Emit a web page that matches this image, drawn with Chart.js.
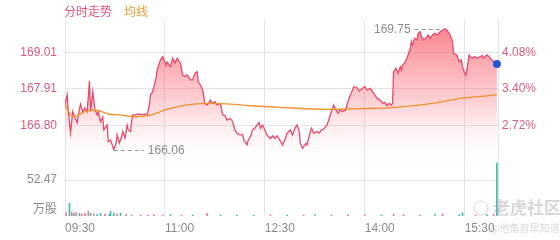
<!DOCTYPE html>
<html>
<head>
<meta charset="utf-8">
<script src="https://cdn.jsdelivr.net/npm/chart.js@4.4.1/dist/chart.umd.min.js"></script>
<style>
  body { margin: 0; background: #fff; }
  #wrap { position: relative; width: 560px; height: 240px; }
</style>
</head>
<body>
<div id="wrap"><canvas id="chart" width="560" height="240"></canvas></div>
<script>
// minutes since 09:30 and last price
const minutes = [0, 2, 3, 5, 7, 9, 11, 12, 14, 16, 18, 20, 22, 23, 25, 27, 29, 30, 32, 34, 35, 38, 39, 41, 43, 44,
  46, 47, 49, 51, 52, 54, 56, 57, 59, 60, 61, 63, 66, 69, 72, 74, 76, 77, 79, 82, 83, 85, 86, 88, 91, 92, 95, 97,
  99, 101, 104, 106, 108, 110, 113, 115, 117, 119, 120, 122, 124, 126, 128, 131, 133, 135, 137, 140, 142, 144,
  146, 149, 151, 153, 155, 158, 160, 161, 164, 165, 167, 169, 171, 173, 175, 176, 178, 180, 182, 185, 187, 189,
  191, 194, 196, 198, 200, 203, 205, 207, 209, 211, 212, 214, 217, 218, 221, 222, 224, 227, 229, 231, 233, 236,
  238, 240, 242, 244, 246, 248, 250, 253, 254, 257, 259, 260, 263, 265, 268, 270, 272, 275, 277, 279, 281, 284,
  286, 288, 290, 292, 294, 295, 296, 298, 300, 302, 303, 304, 306, 308, 309, 311, 312, 313, 315, 317, 318, 320,
  321, 323, 325, 327, 329, 331, 333, 335, 338, 340, 342, 344, 346, 347, 349, 350, 353, 355, 357, 358, 360, 361,
  362, 364, 365, 367, 369, 371, 374, 376, 377, 380, 382, 383, 386, 389];
const prices = [167.44, 167.73, 167.22, 166.57, 167.22, 167.02, 166.87, 167.12, 167.45, 167.22, 167.33, 167.22,
  168.15, 167.22, 167.83, 167.27, 167.12, 167.22, 166.91, 167.06, 166.66, 166.81, 166.30, 166.35, 166.15, 166.06,
  166.26, 166.51, 166.26, 166.45, 166.61, 166.41, 166.81, 166.66, 166.61, 166.91, 167.12, 167.12, 167.15, 167.12,
  167.15, 167.12, 167.42, 167.73, 167.83, 168.24, 168.49, 168.70, 168.80, 168.90, 168.64, 168.74, 168.59, 168.85,
  168.70, 168.85, 168.70, 168.34, 168.29, 168.34, 168.19, 168.19, 168.39, 168.44, 168.13, 168.03, 167.88, 167.47,
  167.42, 167.57, 167.47, 167.52, 167.42, 167.47, 167.12, 167.10, 166.96, 167.01, 166.91, 166.66, 166.56, 166.50,
  166.52, 166.35, 166.20, 166.35, 166.45, 166.66, 166.71, 166.81, 166.88, 166.71, 166.81, 166.66, 166.50, 166.40,
  166.48, 166.40, 166.48, 166.32, 166.20, 166.35, 166.56, 166.66, 166.50, 166.71, 166.81, 166.61, 166.25, 166.10,
  166.25, 166.20, 166.61, 166.71, 166.56, 166.61, 166.56, 166.66, 166.68, 166.81, 167.01, 167.22, 167.42, 167.27,
  167.17, 167.27, 167.22, 167.27, 167.44, 167.73, 167.88, 167.98, 167.95, 167.85, 167.93, 167.98, 167.88, 167.93,
  167.83, 167.73, 167.63, 167.57, 167.47, 167.50, 167.40, 167.47, 167.42, 167.47, 168.44, 168.54, 168.39, 168.59,
  168.49, 168.64, 168.70, 168.85, 168.95, 169.15, 169.36, 169.25, 169.46, 169.41, 169.61, 169.66, 169.51, 169.41,
  169.46, 169.56, 169.46, 169.56, 169.61, 169.56, 169.66, 169.71, 169.75, 169.71, 169.61, 169.56, 169.36, 169.00,
  168.95, 168.74, 168.80, 168.59, 168.39, 168.32, 168.49, 168.95, 168.90, 168.85, 168.90, 168.85, 168.90, 168.93,
  168.85, 168.95, 168.90, 168.85, 168.74, 168.67];

// average price line
const avgMinutes = [0, 7, 12, 18, 25, 33, 40, 50, 63, 78, 90, 102, 114, 130, 153, 167, 198, 228, 243, 265, 295, 333, 358, 389];
const avgPrices = [167.42, 167.06, 167.12, 167.22, 167.27, 167.22, 167.14, 167.12, 167.06, 167.12, 167.27, 167.37,
  167.44, 167.47, 167.44, 167.40, 167.34, 167.29, 167.29, 167.31, 167.34, 167.48, 167.63, 167.73];

// volume (万股); 1 = up bar, 0 = down bar
const volMinutes = [1, 4, 6, 8, 10, 13, 15, 18, 21, 23, 26, 29, 32, 36, 40, 41, 44, 47, 50, 55, 60, 68, 75, 80, 88,
  95, 105, 115, 128, 140, 155, 170, 185, 200, 215, 225, 240, 255, 270, 285, 296, 305, 320, 333, 340, 355, 358, 370,
  380, 386, 389];
const volValues = [5, 19, 6, 4, 5, 4, 3, 4, 7, 4, 3, 2.5, 4, 3, 2.5, 7, 4, 3, 4, 2.5, 1.5, 1.5, 1.5, 2, 1.5, 2,
  1.5, 1.5, 4, 1.5, 1.5, 1.2, 1.5, 1.5, 1.2, 1.5, 1.5, 2, 1.5, 1.5, 3, 2, 1.5, 2, 3, 2, 5, 1.5, 2, 3, 77];
const volUp = [1, 0, 1, 0, 1, 0, 1, 1, 1, 0, 1, 0, 0, 1, 0, 0, 0, 1, 0, 1, 0, 1, 1, 1, 1, 0, 1, 0, 1, 0, 0, 0, 1,
  0, 1, 0, 1, 1, 1, 0, 1, 1, 1, 0, 1, 0, 0, 1, 0, 1, 0];

const priceTicks = [169.01, 167.91, 166.80];
const pctLabels = ["4.08%", "3.40%", "2.72%"];
const timeTicks = [0, 90, 180, 270, 360, 390];
const timeLabels = ["09:30", "11:00", "12:30", "14:00", "15:30", ""];
const volTick = 52.47;
const volUnit = "万股";

// axis ranges
const pMax = 170.018, pMin = 164.03;
const volMax = 285.7;
const volLinePrice = pMin + (volTick / volMax) * (pMax - pMin);
const unitPrice = pMin + 0.03 * (pMax - pMin);

const RED = "#e8496a";
const LABEL_RED = "#dc5a78";
const GREY = "#8a8a8a";
const GRID = "#e3e3e3";
const FONT = "'Liberation Sans', Arial, 'Noto Sans CJK SC', sans-serif";

const highPrice = Math.max(...prices);
const lowPrice = Math.min(...prices);
const highMinute = minutes[prices.indexOf(highPrice)];
const lowMinute = minutes[prices.indexOf(lowPrice)];

const extras = {
  id: "extras",
  afterDatasetsDraw(chart) {
    const { ctx } = chart;
    const xs = chart.scales.x, ys = chart.scales.y;
    ctx.save();
    // title
    ctx.font = "12px 'Noto Sans CJK SC', sans-serif";
    ctx.textBaseline = "middle";
    ctx.textAlign = "left";
    ctx.fillStyle = "#e05577";
    ctx.fillText("分时走势", 64, 11);
    ctx.fillStyle = "#f09a32";
    ctx.fillText("均线", 124, 11);

    // high / low marks
    ctx.strokeStyle = "#9a9a9a";
    ctx.lineWidth = 1;
    ctx.setLineDash([4, 3]);
    ctx.font = "12px " + FONT;
    ctx.fillStyle = GREY;
    const hx = xs.getPixelForValue(highMinute), hy = Math.round(ys.getPixelForValue(highPrice)) + 0.5;
    ctx.beginPath(); ctx.moveTo(hx - 30, hy); ctx.lineTo(hx, hy); ctx.stroke();
    ctx.textAlign = "right";
    ctx.fillText(highPrice.toFixed(2), hx - 34, hy);
    const lx = xs.getPixelForValue(lowMinute), ly = Math.round(ys.getPixelForValue(lowPrice)) + 0.5;
    ctx.beginPath(); ctx.moveTo(lx, ly); ctx.lineTo(lx + 30, ly); ctx.stroke();
    ctx.textAlign = "left";
    ctx.fillText(lowPrice.toFixed(2), lx + 34, ly);
    ctx.setLineDash([]);

    // watermark
    ctx.globalAlpha = 0.4;
    ctx.strokeStyle = "#9a9a9a";
    ctx.beginPath(); ctx.arc(481, 208, 7, 0, Math.PI * 2); ctx.stroke();
    ctx.fillStyle = "#9a9a9a";
    ctx.font = "bold 17px 'Noto Sans CJK SC', sans-serif";
    ctx.textAlign = "left";
    ctx.fillText("老虎社区", 493, 208);
    ctx.font = "10px 'Noto Sans CJK SC', sans-serif";
    ctx.fillText("@他角曾早知道", 490, 228);
    ctx.restore();
  }
};

const ctxEl = document.getElementById("chart");
new Chart(ctxEl, {
  type: "line",
  data: {
    datasets: [
      {
        type: "line",
        data: [{ x: minutes[minutes.length - 1], y: prices[prices.length - 1] }],
        pointRadius: 4,
        pointBackgroundColor: "#1f55d8",
        pointBorderWidth: 0,
        showLine: false,
        clip: false,
        order: 0
      },
      {
        data: minutes.map((m, i) => ({ x: m, y: prices[i] })),
        borderColor: RED,
        borderWidth: 1.3,
        pointRadius: 0,
        tension: 0,
        fill: "start",
        backgroundColor: (c) => {
          const a = c.chart.chartArea;
          if (!a) return "rgba(240,80,100,0.3)";
          const g = c.chart.ctx.createLinearGradient(0, a.top, 0, a.top + 148);
          g.addColorStop(0, "rgba(246,80,96,0.75)");
          g.addColorStop(0.55, "rgba(248,120,130,0.35)");
          g.addColorStop(1, "rgba(255,255,255,0)");
          return g;
        },
        order: 2
      },
      {
        data: avgMinutes.map((m, i) => ({ x: m, y: avgPrices[i] })),
        borderColor: "#f2912c",
        borderWidth: 1.4,
        pointRadius: 0,
        tension: 0.3,
        fill: false,
        order: 1
      },
      {
        type: "bar",
        yAxisID: "y2",
        data: volMinutes.map((m, i) => ({ x: m, y: volValues[i] })),
        backgroundColor: volUp.map(u => (u ? "#f07a92" : "#3fbcaa")),
        barThickness: 1,
        grouped: false,
        order: 3
      }
    ]
  },
  options: {
    responsive: false,
    animation: false,
    devicePixelRatio: 1,
    layout: { padding: { top: 20, left: 0, right: 0, bottom: 0 } },
    plugins: { legend: { display: false }, tooltip: { enabled: false } },
    scales: {
      x: {
        type: "linear",
        min: 0,
        max: 390,
        offset: false,
        afterBuildTicks: (s) => { s.ticks = timeTicks.map(v => ({ value: v })); },
        afterFit: (s) => { s.height = 24; },
        grid: { color: GRID, drawTicks: false, offset: false },
        border: { display: false },
        ticks: {
          align: "start",
          maxRotation: 0,
          autoSkip: false,
          padding: 5,
          color: GREY,
          font: { family: FONT, size: 12 },
          callback: (v) => timeLabels[timeTicks.indexOf(v)]
        }
      },
      y: {
        position: "left",
        min: pMin,
        max: pMax,
        afterBuildTicks: (s) => {
          s.ticks = [unitPrice, volLinePrice, ...priceTicks.slice().reverse()].map(v => ({ value: v }));
        },
        afterFit: (s) => { s.width = 65; },
        grid: {
          drawTicks: false,
          color: (c) => (c.tick && c.tick.value === unitPrice ? "rgba(0,0,0,0)" : GRID)
        },
        border: { display: false },
        ticks: {
          padding: 8,
          font: { family: FONT, size: 12 },
          color: (c) => (priceTicks.includes(c.tick.value) ? LABEL_RED : GREY),
          callback: (v) => {
            if (v === unitPrice) return volUnit;
            if (v === volLinePrice) return volTick.toFixed(2);
            return v.toFixed(2);
          }
        }
      },
      y1: {
        position: "right",
        min: pMin,
        max: pMax,
        afterBuildTicks: (s) => { s.ticks = priceTicks.map(v => ({ value: v })); },
        afterFit: (s) => { s.width = 62; },
        grid: { display: false, drawTicks: false },
        border: { display: false },
        ticks: {
          padding: 4,
          color: LABEL_RED,
          font: { family: FONT, size: 12 },
          callback: (v) => pctLabels[priceTicks.indexOf(v)]
        }
      },
      y2: {
        display: false,
        min: 0,
        max: volMax
      }
    }
  },
  plugins: [extras]
});
</script>
</body>
</html>
